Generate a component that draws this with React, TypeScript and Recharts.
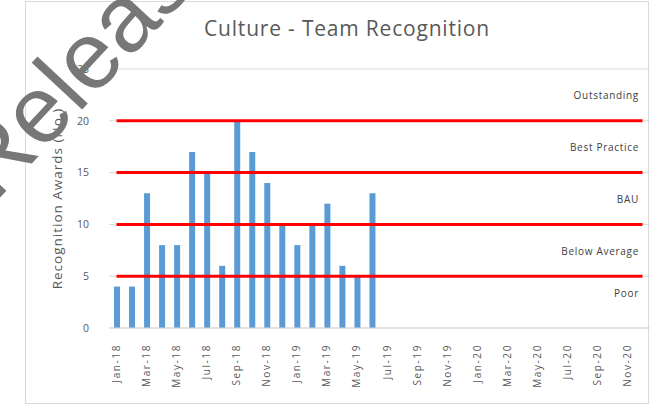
import React from "react";
import {
  BarChart,
  Bar,
  XAxis,
  YAxis,
  CartesianGrid,
  ReferenceLine,
  Label,
} from "recharts";

const months = [
  "Jan-18", "Feb-18", "Mar-18", "Apr-18", "May-18", "Jun-18",
  "Jul-18", "Aug-18", "Sep-18", "Oct-18", "Nov-18", "Dec-18",
  "Jan-19", "Feb-19", "Mar-19", "Apr-19", "May-19", "Jun-19",
  "Jul-19", "Aug-19", "Sep-19", "Oct-19", "Nov-19", "Dec-19",
  "Jan-20", "Feb-20", "Mar-20", "Apr-20", "May-20", "Jun-20",
  "Jul-20", "Aug-20", "Sep-20", "Oct-20", "Nov-20", "Dec-20",
];

// awards per month (only Jan-18 .. Jun-19 reported)
const awards = [4, 4, 13, 8, 8, 17, 15, 6, 20, 17, 14, 10, 8, 10, 12, 6, 5, 13];

const thresholds = [5, 10, 15, 20];
const bands = [
  { name: "Outstanding", y: 22.4 },
  { name: "Best Practice", y: 17.4 },
  { name: "BAU", y: 12.4 },
  { name: "Below Average", y: 7.4 },
  { name: "Poor", y: 3.3 },
];
const yTicks = [0, 5, 10, 15, 20, 25];

const data = months.map((m, i) => ({ month: m, awards: awards[i] ?? null }));

const font = "'Open Sans', 'Liberation Sans', sans-serif";

function MonthTick(props: any) {
  const { x, y, payload } = props;
  return (
    <g transform={`translate(${x},${y})`}>
      <text
        transform="rotate(-90)"
        x={-8}
        dy={3.5}
        textAnchor="end"
        fontSize={10}
        letterSpacing={1.6}
        fill="#595959"
        fontFamily={font}
      >
        {payload.value}
      </text>
    </g>
  );
}

export default function App() {
  return (
    <div
      style={{
        position: "fixed",
        left: 0,
        top: 0,
        width: 651,
        height: 406,
        background: "#fff",
        overflow: "hidden",
        fontFamily: font,
      }}
    >
      <div
        style={{
          position: "absolute",
          left: 25,
          top: 1,
          width: 622,
          height: 401,
          border: "1px solid #d9d9d9",
        }}
      />
      <div
        style={{
          position: "absolute",
          left: 0,
          width: 694,
          top: 14,
          textAlign: "center",
          fontSize: 21,
          letterSpacing: 0.8,
          color: "#595959",
        }}
      >
        Culture - Team Recognition
      </div>
      <div style={{ position: "absolute", left: 0, top: 0 }}>
        <BarChart
          width={651}
          height={406}
          data={data}
          margin={{ top: 69, right: 1, bottom: 0, left: 0 }}
          barSize={6}
        >
          <CartesianGrid vertical={false} stroke="#d9d9d9" />
          <XAxis
            dataKey="month"
            height={78}
            interval={1}
            tickLine={false}
            axisLine={{ stroke: "#d9d9d9" }}
            tick={<MonthTick />}
          />
          <YAxis
            width={109}
            domain={[0, 25]}
            ticks={yTicks}
            tickLine={false}
            axisLine={false}
            tick={{ fontSize: 10.5, fill: "#595959", fontFamily: font }}
            tickMargin={14}
          >
            <Label
              value="Recognition Awards (No.)"
              angle={-90}
              position="insideLeft"
              offset={57}
              style={{
                fontSize: 13.5,
                letterSpacing: 1,
                fill: "#595959",
                fontFamily: font,
                textAnchor: "middle",
              }}
            />
          </YAxis>
          <Bar dataKey="awards" fill="#5B9BD5" isAnimationActive={false} />
          {thresholds.map((t) => (
            <ReferenceLine
              key={t}
              segment={[
                { x: months[0], y: t },
                { x: months[months.length - 1], y: t },
              ]}
              stroke="#FF0000"
              strokeWidth={3}
            />
          ))}
          {bands.map((b) => (
            <ReferenceLine
              key={b.name}
              y={b.y}
              stroke="none"
              label={{
                value: b.name,
                position: "insideRight",
                offset: 11,
                fontSize: 10,
                letterSpacing: 0.7,
                fill: "#404040",
                fontFamily: font,
              }}
            />
          ))}
        </BarChart>
      </div>
      {/* watermark across the top-left corner */}
      <svg
        width={651}
        height={406}
        style={{ position: "absolute", left: 0, top: 0, pointerEvents: "none" }}
      >
        <text
          x={-5}
          y={203}
          transform="rotate(-47 -5 203)"
          fontSize={95}
          fontFamily="'Liberation Sans', Arial, sans-serif"
          fill="#777"
        >
          Release
        </text>
      </svg>
    </div>
  );
}
